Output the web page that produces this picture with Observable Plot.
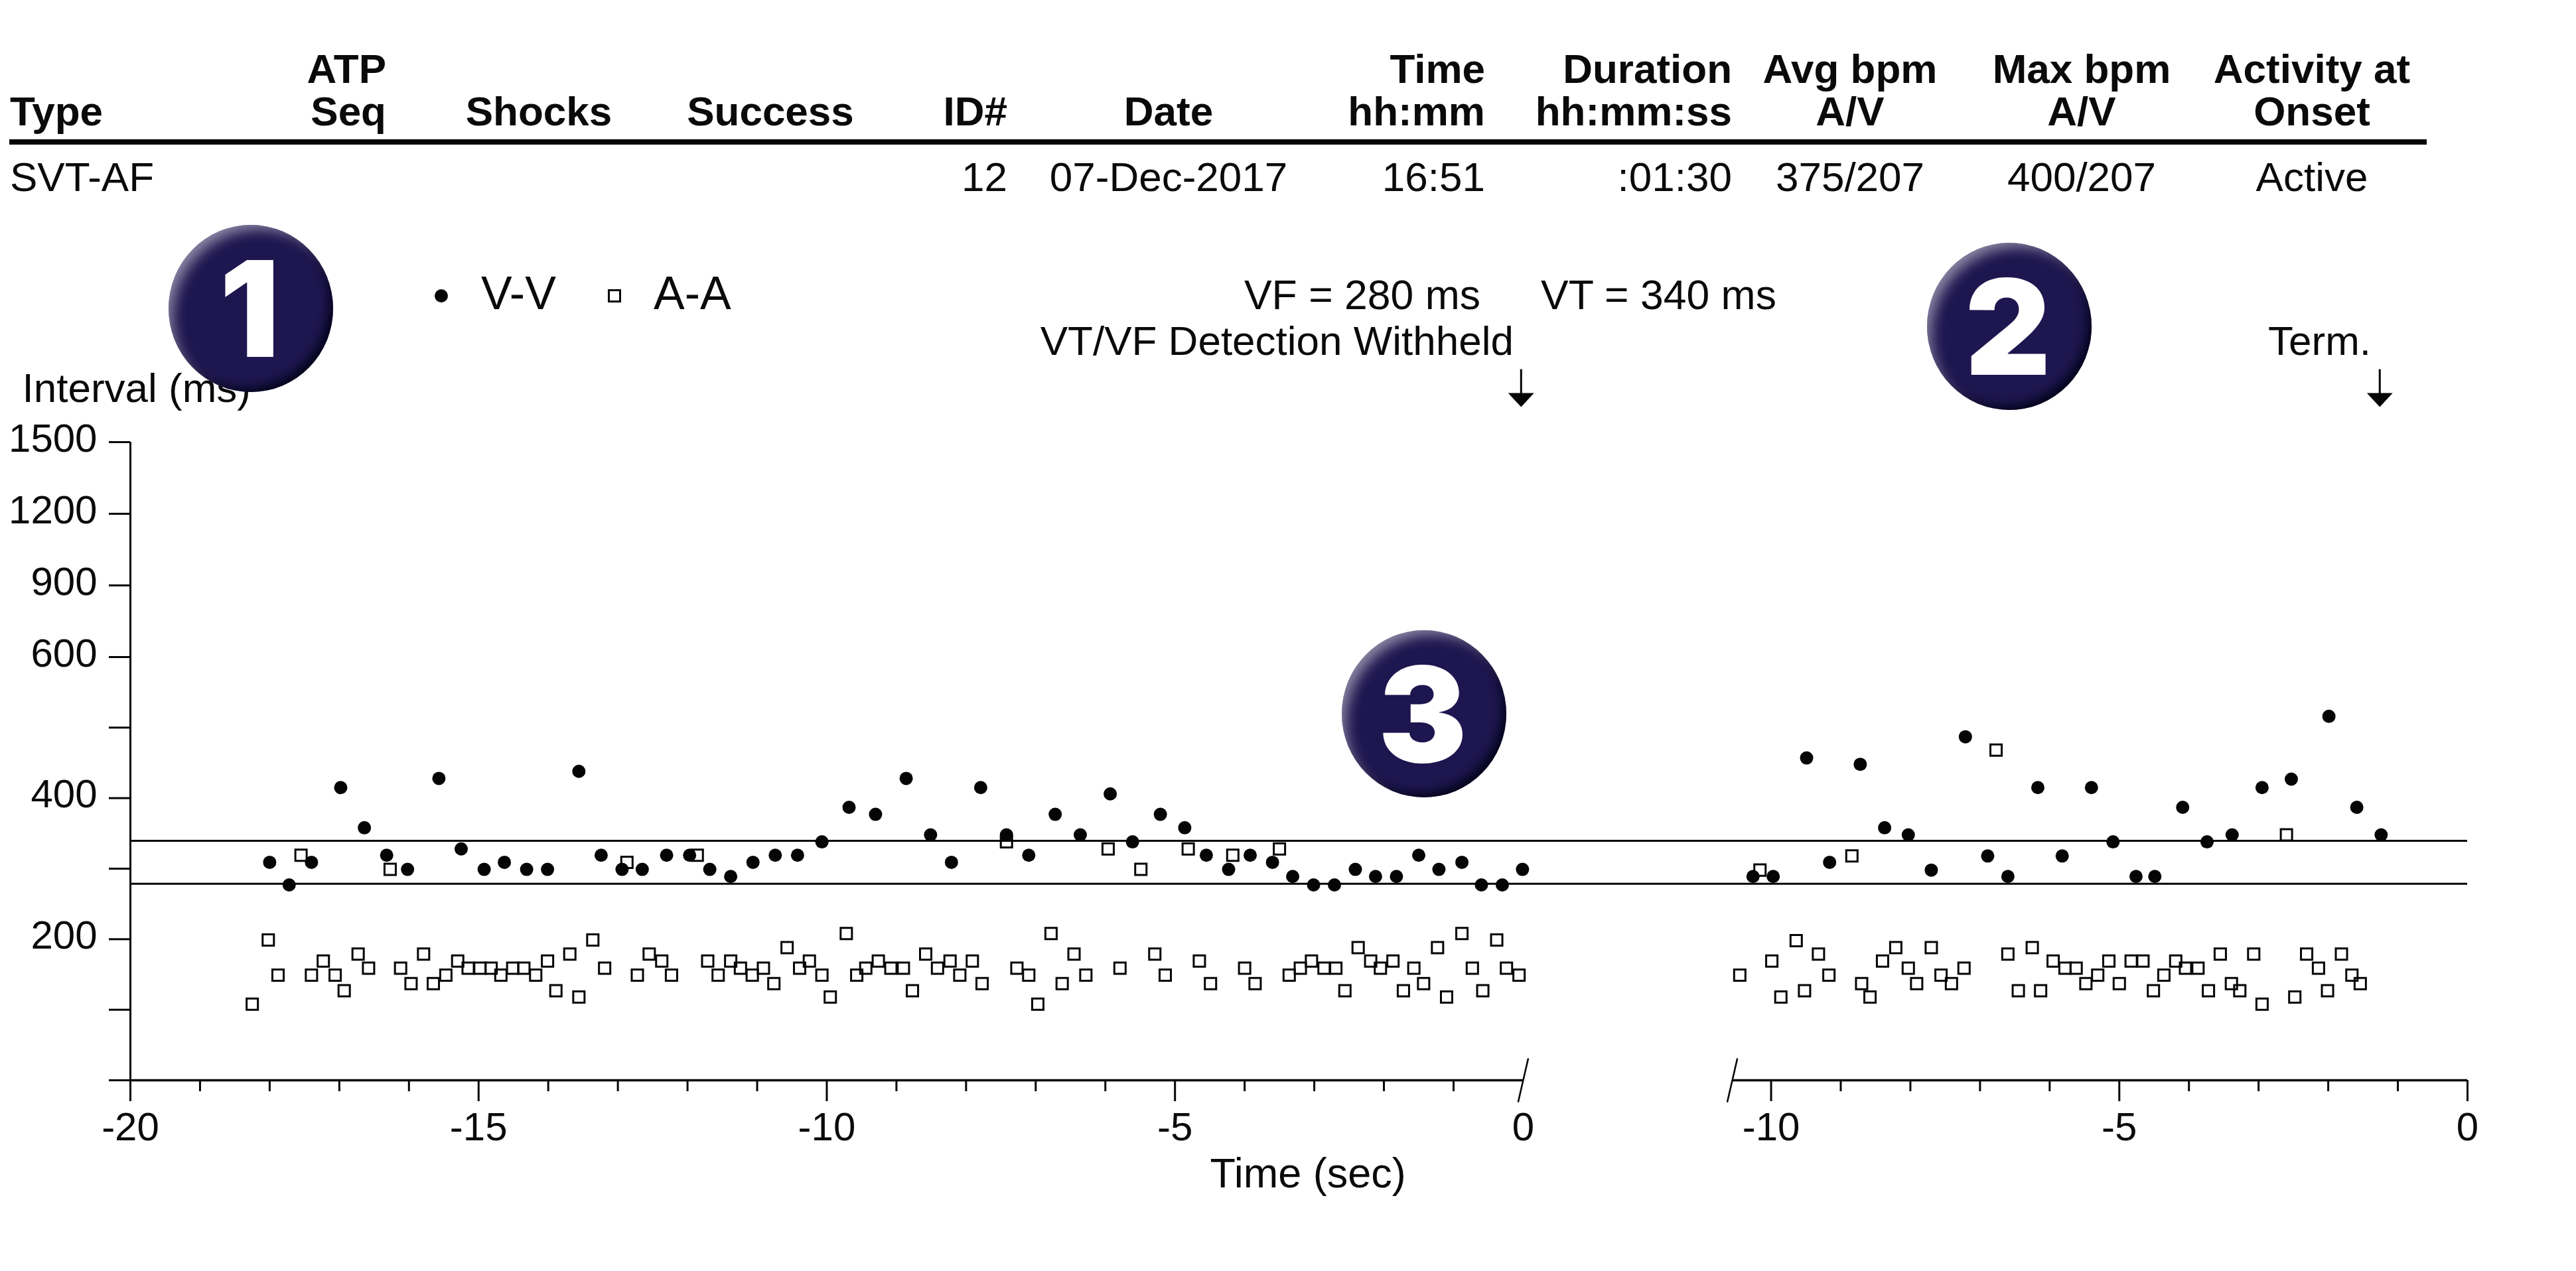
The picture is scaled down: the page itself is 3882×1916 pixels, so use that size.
<!DOCTYPE html>
<html>
<head>
<meta charset="utf-8">
<script src="https://cdn.jsdelivr.net/npm/d3@7"></script>
<script src="https://cdn.jsdelivr.net/npm/@observablehq/plot@0.6"></script>
<style>
  html, body { margin: 0; padding: 0; background: #fff; overflow: hidden; }
  body { width: 3882px; height: 1916px; position: relative; font-family: "Liberation Sans", Arial, sans-serif; color: #0a0a0a; }
  #header { position: relative; height: 540px; width: 3882px; }
  #chart { position: absolute; left: 0; top: 540px; }
  #chart svg { display: block; }
  .t { position: absolute; white-space: nowrap; line-height: 1; }
  .badge { position: absolute; box-sizing: border-box; padding-right: 4px; border-radius: 50%; background: #1e164f; color: #fff; display: flex; align-items: center; justify-content: center;
           box-shadow: inset 14px 14px 20px -8px rgba(255,255,255,.5), inset -10px -10px 16px -5px rgba(0,0,20,.95);
           font-family: "Inter", "Liberation Sans", sans-serif; font-weight: 900; z-index: 5; }
</style>
</head>
<body>
<div id="header"></div>
<div id="chart"></div>
<script>
// ---------- data ----------
const headerTop = ["", "ATP", "", "", "", "", "Time", "Duration", "Avg bpm", "Max bpm", "Activity at"];
const headerBottom = ["Type", "Seq", "Shocks", "Success", "ID#", "Date", "hh:mm", "hh:mm:ss", "A/V", "A/V", "Onset"];
const rowValues = ["SVT-AF", "", "", "", "12", "07-Dec-2017", "16:51", ":01:30", "375/207", "400/207", "Active"];

const vfLimit = 278.5, vtLimit = 339.5;
const vfText = "VF = 280 ms", vtText = "VT = 340 ms";
const detectionText = "VT/VF Detection Withheld", termText = "Term.";
const badgeLabels = ["1", "2", "3"];

const yTicks = [0, 100, 200, 300, 400, 500, 600, 900, 1200, 1500];
const yLabelled = [200, 400, 600, 900, 1200, 1500];
const majorTicks1 = [-20, -15, -10, -5, 0];
const minorTicks1 = [-19,-18,-17,-16,-14,-13,-12,-11,-9,-8,-7,-6,-4,-3,-2,-1];
const majorTicks2 = [-10, -5, 0];
const minorTicks2 = [-9,-8,-7,-6,-4,-3,-2,-1];
const panel2Start = -10.557;
const panel2Shift = 13.56;   // where the second time axis sits after the break
const markers = [{panel: 1, t: -0.03}, {panel: 2, t: -1.26}];

const vvPanel1 = [[-18.00,309],[-17.72,277],[-17.40,309],[-16.98,415],[-16.64,358],[-16.32,319],[-16.02,299],[-15.57,428],[-15.25,328],[-14.92,299],
[-14.63,309],[-14.31,299],[-14.01,299],[-13.56,438],[-13.24,319],[-12.94,299],[-12.65,299],[-12.30,319],[-11.97,319],[-11.68,299],
[-11.38,289],[-11.06,309],[-10.74,319],[-10.42,319],[-10.07,338],[-9.68,387],[-9.30,377],[-8.86,428],[-8.51,348],[-8.21,309],
[-7.79,415],[-7.42,348],[-7.10,319],[-6.72,377],[-6.36,348],[-5.93,406],[-5.61,338],[-5.21,377],[-4.86,358],[-4.55,319],
[-4.23,299],[-3.92,319],[-3.60,309],[-3.31,289],[-3.01,277],[-2.71,277],[-2.41,299],[-2.12,289],[-1.82,289],[-1.50,319],
[-1.21,299],[-0.88,309],[-0.60,277],[-0.30,277],[-0.01,299]];

const aaPanel1 = [[-18.25,108],[-18.02,199],[-17.88,149],[-17.55,319],[-17.40,149],[-17.23,169],[-17.06,149],[-16.93,127],[-16.73,179],[-16.58,159],
[-16.27,299],[-16.12,159],[-15.97,137],[-15.79,179],[-15.65,137],[-15.47,149],[-15.30,169],[-15.15,159],[-14.98,159],[-14.82,159],
[-14.68,149],[-14.51,159],[-14.35,159],[-14.18,149],[-14.01,169],[-13.89,127],[-13.69,179],[-13.56,118],[-13.36,199],[-13.19,159],
[-12.87,309],[-12.72,149],[-12.55,179],[-12.37,169],[-12.23,149],[-11.86,319],[-11.71,169],[-11.56,149],[-11.38,169],[-11.24,159],
[-11.07,149],[-10.91,159],[-10.76,137],[-10.57,188],[-10.39,159],[-10.25,169],[-10.07,149],[-9.95,118],[-9.72,208],[-9.57,149],
[-9.44,159],[-9.26,169],[-9.08,159],[-8.90,159],[-8.77,127],[-8.58,179],[-8.41,159],[-8.23,169],[-8.09,149],[-7.91,169],
[-7.77,137],[-7.42,338],[-7.27,159],[-7.10,149],[-6.97,108],[-6.78,208],[-6.62,137],[-6.45,179],[-6.28,149],[-5.96,328],
[-5.79,159],[-5.49,299],[-5.29,179],[-5.14,149],[-4.81,328],[-4.65,169],[-4.49,137],[-4.17,319],[-4.00,159],[-3.85,137],
[-3.50,328],[-3.36,149],[-3.20,159],[-3.04,169],[-2.86,159],[-2.69,159],[-2.56,127],[-2.37,188],[-2.19,169],[-2.05,159],
[-1.87,169],[-1.72,127],[-1.57,159],[-1.43,137],[-1.23,188],[-1.10,118],[-0.88,208],[-0.73,159],[-0.58,127],[-0.38,199],
[-0.24,159],[-0.06,149]];

const vvPanel2 = [[-10.26,289],[-9.97,289],[-9.49,457],[-9.16,309],[-8.72,448],[-8.37,358],[-8.03,348],[-7.70,298],[-7.21,487],[-6.89,318],
[-6.60,289],[-6.17,415],[-5.82,318],[-5.40,415],[-5.09,338],[-4.76,289],[-4.49,289],[-4.09,387],[-3.74,338],[-3.38,348],
[-2.95,415],[-2.53,427],[-1.99,516],[-1.59,387],[-1.24,348]];

const aaPanel2 = [[-10.45,149],[-10.16,298],[-9.99,169],[-9.86,118],[-9.64,198],[-9.52,127],[-9.32,179],[-9.17,149],[-8.84,318],[-8.70,137],
[-8.58,118],[-8.40,169],[-8.21,188],[-8.03,159],[-7.91,137],[-7.70,188],[-7.56,149],[-7.41,137],[-7.23,159],[-6.77,468],
[-6.60,179],[-6.45,127],[-6.25,188],[-6.13,127],[-5.95,169],[-5.78,159],[-5.62,159],[-5.48,137],[-5.31,149],[-5.15,169],
[-5.00,137],[-4.83,169],[-4.66,169],[-4.51,127],[-4.36,149],[-4.19,169],[-4.05,159],[-3.87,159],[-3.72,127],[-3.55,179],
[-3.39,137],[-3.27,127],[-3.07,179],[-2.95,108],[-2.60,348],[-2.48,118],[-2.31,179],[-2.14,159],[-2.01,127],[-1.81,179],
[-1.66,149],[-1.54,137]];

// ---------- layout ----------
const FONT = '"Liberation Sans", Arial, sans-serif';
const headerEl = document.getElementById("header");
function place(text, x, baseline, anchor, size, bold, parent = headerEl) {
  const el = document.createElement("span");
  el.className = "t";
  el.textContent = text;
  el.style.fontSize = size + "px";
  el.style.top = (baseline - 0.846 * size) + "px";
  el.style.left = x + "px";
  el.style.fontWeight = bold ? "700" : "400";
  el.style.transform = anchor === "end" ? "translateX(-100%)" : anchor === "middle" ? "translateX(-50%)" : "none";
  parent.appendChild(el);
  return el;
}
const colX = [15, 582, 812, 1161, 1518, 1761, 2238, 2610, 2788, 3137, 3484];
const colAnchor = ["start", "end", "middle", "middle", "end", "middle", "end", "end", "middle", "middle", "middle"];
headerTop.forEach((s, i) => s && place(s, colX[i], 125, colAnchor[i], 62, true));
headerBottom.forEach((s, i) => s && place(s, colX[i], 189, colAnchor[i], 62, true));
rowValues.forEach((s, i) => s && place(s, colX[i], 288, colAnchor[i], 62, false));

const ruleEl = document.createElement("div");
ruleEl.style.cssText = "position:absolute;left:14px;top:210px;width:3643px;height:8px;background:#050505";
headerEl.appendChild(ruleEl);

// legend
const legendDot = document.createElement("div");
legendDot.style.cssText = "position:absolute;left:655px;top:436px;width:20px;height:20px;border-radius:50%;background:#050505";
headerEl.appendChild(legendDot);
const legendSquare = document.createElement("div");
legendSquare.style.cssText = "position:absolute;left:916px;top:436px;width:20px;height:20px;box-sizing:border-box;border:3px solid #050505";
headerEl.appendChild(legendSquare);
place("V-V", 725, 466, "start", 70, false);
place("A-A", 985, 466, "start", 70, false);
place(vfText, 2231, 466, "end", 62.5, false);
place(vtText, 2322, 466, "start", 62.5, false);
place(detectionText, 2281, 535, "end", 62, false);
place(termText, 3573, 535, "end", 62, false);

// badges
const badgeBoxes = [[254, 339], [2904, 366], [2022, 950]];
badgeLabels.forEach((s, i) => {
  const b = document.createElement("div");
  b.className = "badge";
  b.textContent = s;
  b.style.cssText += `left:${badgeBoxes[i][0]}px;top:${badgeBoxes[i][1]}px;width:248px;height:252px;font-size:200px;line-height:1;`;
  document.body.appendChild(b);
});

// ---------- chart ----------
const toRows = (pairs, shift) => pairs.map(([t, v]) => ({x: t + shift, v}));
const vv = [...toRows(vvPanel1, 0), ...toRows(vvPanel2, panel2Shift)];
const aa = [...toRows(aaPanel1, 0), ...toRows(aaPanel2, panel2Shift)];
const panel2Left = panel2Start + panel2Shift;
const axisLabel = new Map([...majorTicks1.map(d => [d, String(d)]), ...majorTicks2.map(d => [d + panel2Shift, String(d)])]);
const majors = [...majorTicks1, ...majorTicks2.map(d => d + panel2Shift)];
const majorMarks = majors.filter(d => d !== 0);   // time zero of the first panel is drawn by the break mark
const minors = [...minorTicks1, ...minorTicks2.map(d => d + panel2Shift)];
const markerRows = markers.map(m => ({x: m.t + (m.panel === 2 ? panel2Shift : 0)}));

const arrowShape = {
  draw(c, l) {
    c.moveTo(-1.5, 0); c.lineTo(1.5, 0); c.lineTo(1.5, -36); c.lineTo(19.5, -36);
    c.lineTo(0, -l); c.lineTo(-19.5, -36); c.lineTo(-1.5, -36); c.closePath();
  }
};
const slashShape = { draw(c, l) { c.moveTo(0, 0); c.lineTo(0, -l); } };

const H = 1376, topY = 126, zeroY = 1088, sixHundredY = 450;
const chartSvg = Plot.plot({
  width: 3882,
  height: H,
  marginLeft: 196,
  marginRight: 164,
  marginTop: topY,
  marginBottom: H - zeroY,
  style: {background: "transparent", fontFamily: FONT, fontSize: "60px", color: "#0a0a0a", overflow: "visible"},
  x: {domain: [-20, panel2Shift], range: [196, 3718], axis: null, label: null},
  y: {type: "linear", domain: [0, 600, 1500], range: [zeroY, sixHundredY, topY], axis: null, label: null},
  marks: [
    // limits
    Plot.ruleY([vfLimit, vtLimit], {x1: -20, x2: panel2Shift, stroke: "#050505", strokeWidth: 3}),
    // axes
    Plot.ruleX([-20], {y1: 0, y2: 1500, stroke: "#050505", strokeWidth: 3}),
    Plot.ruleY([0], {x1: -20, x2: 0, stroke: "#050505", strokeWidth: 3.5}),
    Plot.ruleY([0], {x1: panel2Left, x2: panel2Shift, stroke: "#050505", strokeWidth: 3.5}),
    Plot.axisY({ticks: yTicks, tickSize: 32, text: null, label: null, strokeWidth: 3, stroke: "#050505", marginLeft: 196}),
    Plot.axisY({ticks: yLabelled, tickSize: 0, tickPadding: 50, dy: -5, fontSize: 60, tickFormat: d => String(d), marginLeft: 196, label: null, fill: "#0a0a0a"}),
    Plot.axisX({ticks: majorMarks, tickSize: 32, text: null, label: null, strokeWidth: 3, stroke: "#050505", marginBottom: H - zeroY}),
    Plot.axisX({ticks: minors, tickSize: 17, text: null, label: null, strokeWidth: 3, stroke: "#050505", marginBottom: H - zeroY}),
    Plot.axisX({ticks: majors, tickSize: 0, tickPadding: 48, fontSize: 60, tickFormat: d => axisLabel.get(d), label: null, fill: "#0a0a0a", marginBottom: H - zeroY}),
    // break marks on the time axis
    Plot.vector([{x: 0}, {x: panel2Left}], {x: "x", y: 0, length: 66, rotate: 13, anchor: "middle", shape: slashShape, stroke: "#050505", strokeWidth: 2.5}),
    // data
    Plot.dot(aa, {x: "x", y: "v", symbol: "square", r: 9.6, fill: "none", stroke: "#050505", strokeWidth: 3}),
    Plot.dot(vv, {x: "x", y: "v", r: 10, fill: "#050505", stroke: "none"}),
    // annotations
    Plot.vector(markerRows, {x: "x", y: 1500, dy: -110, length: 57, rotate: 180, anchor: "start", shape: arrowShape, fill: "#050505", stroke: "none"}),
    Plot.text(["Interval (ms)"], {x: -20, y: 1500, dx: -163, dy: -61, text: d => d, textAnchor: "start", lineAnchor: "bottom", fontSize: 62, fill: "#0a0a0a"}),
    Plot.text(["Time (sec)"], {x: -3.09, y: 0, dy: 161, text: d => d, textAnchor: "middle", lineAnchor: "bottom", fontSize: 63, fill: "#0a0a0a"})
  ]
});
document.getElementById("chart").appendChild(chartSvg);
</script>
</body>
</html>
